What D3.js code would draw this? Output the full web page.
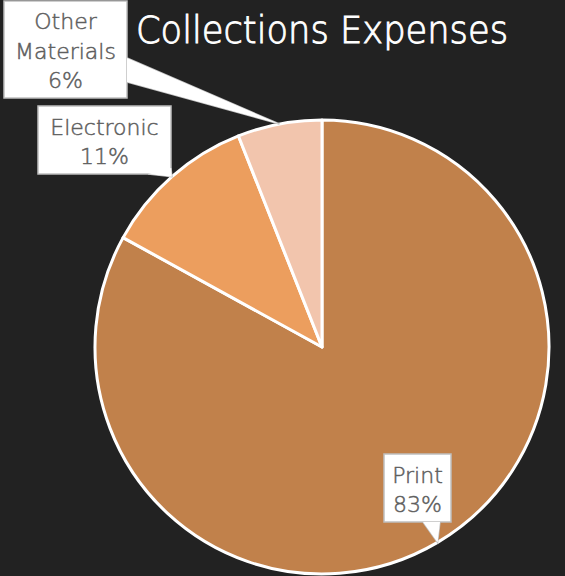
<!DOCTYPE html>
<html>
<head>
<meta charset="utf-8">
<script src="https://cdn.jsdelivr.net/npm/d3@7"></script>
<style>
html,body{margin:0;padding:0;background:#222222;}
svg{display:block;}
</style>
</head>
<body>
<svg id="chart" width="565" height="576"></svg>
<script>
const categories = ["Print", "Electronic", "Other Materials"];
const values = [83, 11, 6];
const labelLines = [["Print", "83%"], ["Electronic", "11%"], ["Other", "Materials", "6%"]];
const colors = ["#C1814B", "#EC9E5E", "#F2C5AD"];
const title = "Collections Expenses";

const W = 565, H = 576;
const cx = 322, cy = 347, R = 227;
const svg = d3.select("#chart");
svg.append("rect").attr("width", W).attr("height", H).attr("fill", "#222222");

const pie = d3.pie().sort(null).value(d => d)(values);
const arc = d3.arc().innerRadius(0).outerRadius(R);
const g = svg.append("g").attr("transform", `translate(${cx},${cy})`);
g.selectAll("path.slice").data(pie).join("path")
  .attr("class", "slice")
  .attr("d", arc)
  .attr("fill", (d, i) => colors[i])
  .attr("stroke", "#ffffff")
  .attr("stroke-width", 3)
  .attr("stroke-linejoin", "round");

// title
svg.append("text")
  .attr("x", 136).attr("y", 43)
  .attr("font-family", "'DejaVu Sans', sans-serif")
  .attr("font-size", 37)
  .attr("font-weight", 200)
  .attr("fill", "#ffffff")
  .attr("stroke", "#ffffff")
  .attr("stroke-width", 0.9)
  .attr("textLength", 372)
  .attr("lengthAdjust", "spacingAndGlyphs")
  .text(title);

// callout layout: box rect and base of pointer (in page coords)
const boxes = [
  {x: 384, y: 454, w: 67, h: 68, base: [[423, 522], [440, 522]]},
  {x: 38, y: 106, w: 133, h: 68, base: [[148, 174], [171, 168]]},
  {x: 4, y: 1, w: 123, h: 97, base: [[127, 58], [127, 82]]}
];
const tipArc = d3.arc().innerRadius(R).outerRadius(R);
const lineH = 29.5;
pie.forEach((d, i) => {
  const b = boxes[i];
  const c = tipArc.centroid(d);
  const tip = [cx + c[0], cy + c[1]];
  const cg = svg.append("g");
  cg.append("path")
    .attr("d", `M${b.base[0][0]},${b.base[0][1]}L${tip[0]},${tip[1]}L${b.base[1][0]},${b.base[1][1]}`)
    .attr("fill", "#ffffff")
    .attr("stroke", "#bfbfbf")
    .attr("stroke-width", 1.5)
    .attr("stroke-linejoin", "miter");
  cg.append("rect")
    .attr("x", b.x).attr("y", b.y).attr("width", b.w).attr("height", b.h)
    .attr("fill", "#ffffff")
    .attr("stroke", "#bfbfbf")
    .attr("stroke-width", 1.5);
  cg.append("path")
    .attr("d", `M${b.base[0][0]},${b.base[0][1]}L${tip[0]},${tip[1]}L${b.base[1][0]},${b.base[1][1]}Z`)
    .attr("fill", "#ffffff")
    .attr("stroke", "none");
  const lines = labelLines[i];
  const totalH = lines.length * lineH;
  const t = cg.append("text")
    .attr("text-anchor", "middle")
    .attr("font-family", "'DejaVu Sans', sans-serif")
    .attr("font-size", 22)
    .attr("font-weight", 200)
    .attr("fill", "#5f5f5f")
    .attr("stroke", "#5f5f5f")
    .attr("stroke-width", 0.5);
  lines.forEach((ln, j) => {
    t.append("tspan")
      .attr("x", b.x + b.w / 2)
      .attr("y", b.y + (b.h - totalH) / 2 + lineH * j + 24)
      .text(ln);
  });
});
</script>
</body>
</html>
